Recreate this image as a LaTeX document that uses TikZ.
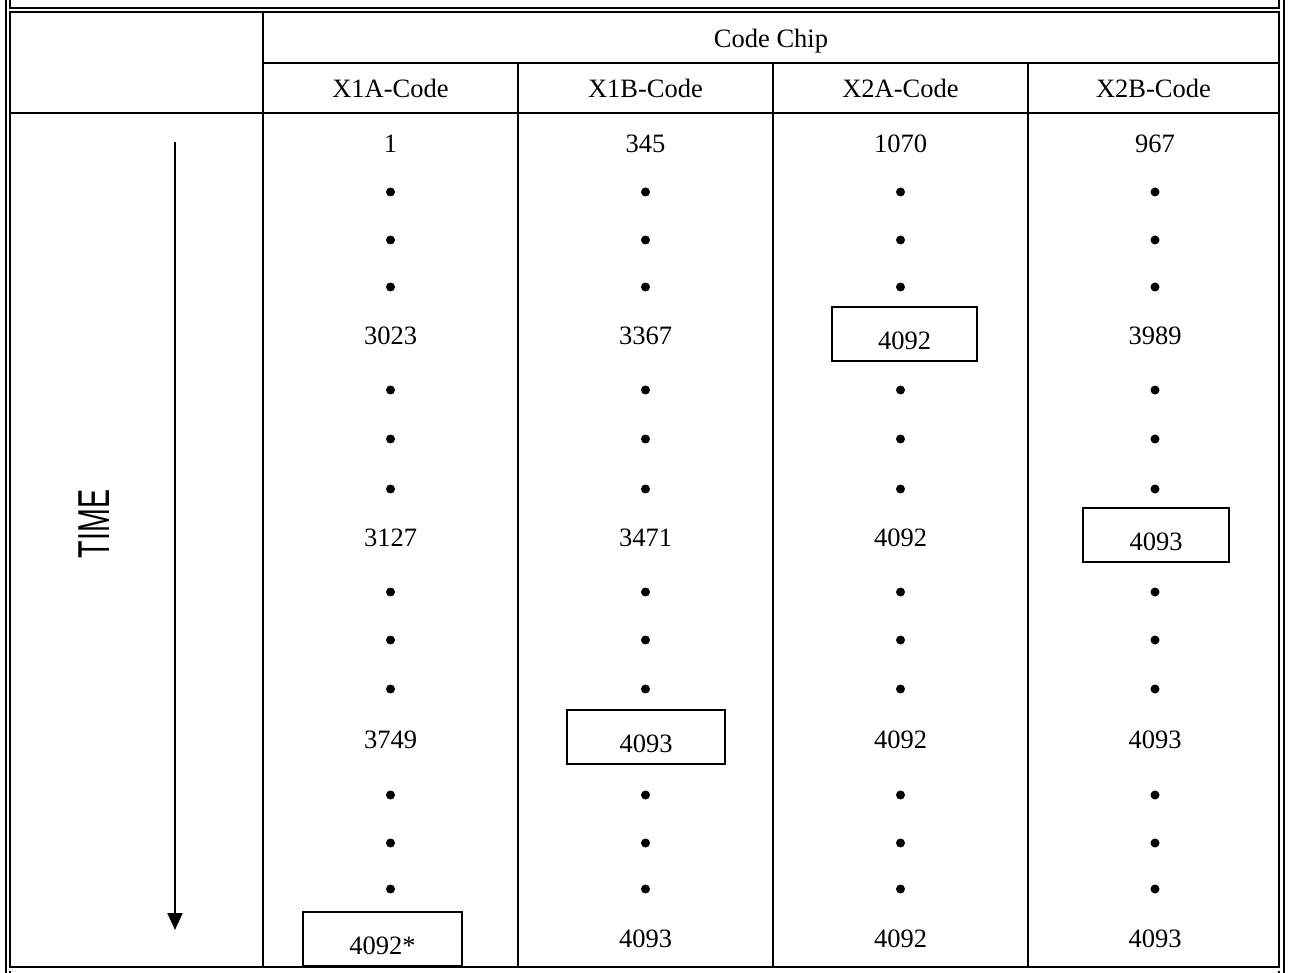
\documentclass[tikz,border=0pt]{standalone}
\usepackage{fontspec}
\setmainfont{Liberation Serif}
\newfontfamily\timefont[FakeStretch=0.64]{Liberation Sans}
\usetikzlibrary{arrows.meta}
\tikzset{
	cell/.style={font=\fontsize{26.5}{30}\selectfont, text height=18pt, text depth=0pt, inner sep=0pt},
	valbox/.style={cell, draw, line width=2pt, text height=31pt, minimum height=54pt},
	rule/.style={line width=2pt},
	timearrow/.style={line width=2pt, -{Triangle[width=15pt, length=17pt]}}
}

\begin{document}
\begin{tikzpicture}[x=1pt, y=-1pt]
		\useasboundingbox (0,0) rectangle (1291,973);

		% frame
		\draw[rule] (5.5,0) -- (5.5,973);
		\draw[rule] (1283.5,0) -- (1283.5,973);
		\draw[rule] (10,0) -- (10,8.5) -- (1279,8.5) -- (1279,0);
		\draw[rule] (10,973) -- (10,971);
		\draw[rule] (1279,973) -- (1279,971);
		\draw[rule] (10,12.5) rectangle (1279,967);

		% grid
		\draw[rule] (263,12.5) -- (263,967);
		\draw[rule] (263,63) -- (1279,63);
		\draw[rule] (10,113) -- (1279,113);
		\draw[rule] (518,63) -- (518,967);
		\draw[rule] (773,63) -- (773,967);
		\draw[rule] (1028,63) -- (1028,967);

		% headings
		\node[cell] at (771,39) (chip) {Code Chip};
		\node[cell] at (390.5,89) (hxa) {X1A-Code};
		\node[cell] at (645.5,89) (hxb) {X1B-Code};
		\node[cell] at (900.5,89) (hya) {X2A-Code};
		\node[cell] at (1153.5,89) (hyb) {X2B-Code};

		% X1A
		\node[cell] at (390.5,143.5) (xa1) {1};
		\node[cell] at (390.5,336) (xa2) {3023};
		\node[cell] at (390.5,537) (xa3) {3127};
		\node[cell] at (390.5,739) (xa4) {3749};
		\node[valbox, minimum width=159pt] at (382.5,939) (xa5) {4092*};

		% X1B
		\node[cell] at (645.5,143.5) (xb1) {345};
		\node[cell] at (645.5,336) (xb2) {3367};
		\node[cell] at (645.5,537) (xb3) {3471};
		\node[valbox, minimum width=158pt] at (646,737) (xb4) {4093};
		\node[cell] at (645.5,938) (xb5) {4093};

		% X2A
		\node[cell] at (900.5,143.5) (ya1) {1070};
		\node[valbox, minimum width=145pt] at (904.5,334) (ya2) {4092};
		\node[cell] at (900.5,537) (ya3) {4092};
		\node[cell] at (900.5,739) (ya4) {4092};
		\node[cell] at (900.5,938) (ya5) {4092};

		% X2B
		\node[cell] at (1155,143.5) (yb1) {967};
		\node[cell] at (1155,336) (yb2) {3989};
		\node[valbox, minimum width=146pt] at (1156,535) (yb3) {4093};
		\node[cell] at (1155,739) (yb4) {4093};
		\node[cell] at (1155,938) (yb5) {4093};

		% dots between the values
		\foreach \cx in {390.5,645.5,900.5,1155}
			\foreach \cy in {192,240,287,390,439,489,592,640,689,795,843,889}
				\fill (\cx,\cy) circle (4.5pt);

		% time axis
		\node[rotate=90, font=\timefont\fontsize{44.7}{48}\selectfont, inner sep=0pt] at (94,524) (time) {TIME};
		\coordinate (tstart) at (175,142);
		\coordinate (tend) at (175,930);
		\draw[timearrow] (tstart) -- (tend);
	\end{tikzpicture}
\end{document}
